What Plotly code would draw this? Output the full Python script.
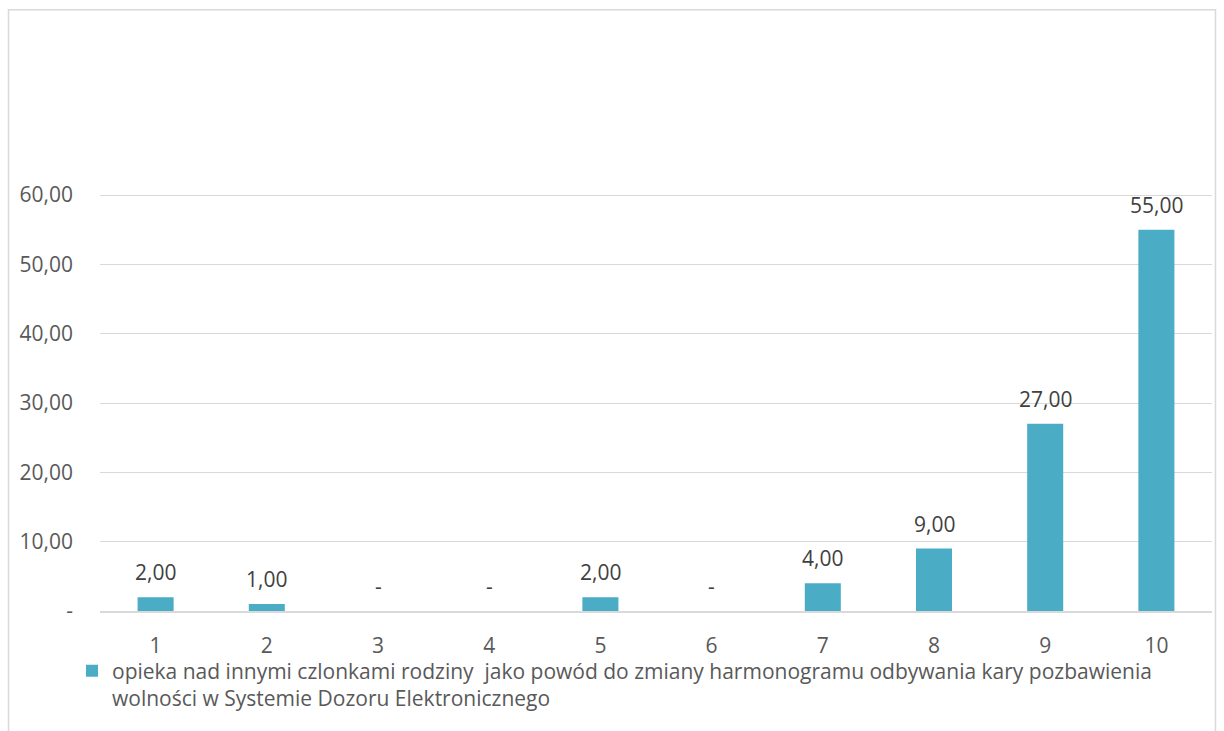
import plotly.graph_objects as go

categories = ["1", "2", "3", "4", "5", "6", "7", "8", "9", "10"]
values = [2, 1, 0, 0, 2, 0, 4, 9, 27, 55]
labels = ["2,00", "1,00", "-", "-", "2,00", "-", "4,00", "9,00", "27,00", "55,00"]
y_tickvals = [0, 10, 20, 30, 40, 50, 60]
y_ticktext = ["-", "10,00", "20,00", "30,00", "40,00", "50,00", "60,00"]
series_name = ("opieka nad innymi czlonkami rodziny  jako powód do zmiany harmonogramu "
               "odbywania kary pozbawienia<br>wolności w Systemie Dozoru Elektronicznego")

FONT = "Open Sans"
FS = 21
W, H = 1224, 731
L, R, T, B = 100, 12, 194, 117
pw, ph = W - L - R, H - T - B
Y_MAX = 60.15

fig = go.Figure()
fig.add_trace(go.Bar(
    x=categories, y=values, name=series_name,
    marker=dict(color="#4bacc6", line=dict(width=0)),
    showlegend=True,
))

for i, (v, t) in enumerate(zip(values, labels)):
    fig.add_annotation(x=i, y=v, text=t, showarrow=False, yanchor="bottom",
                       yshift=9, font=dict(family=FONT, size=FS, color="#404040"))

def px_x(p):
    return (p - L) / pw

def px_y(p):
    return (H - B - p) / ph

fig.add_shape(type="rect", xref="paper", yref="paper",
              x0=px_x(8.5), x1=px_x(1215.5), y0=px_y(745), y1=px_y(8.5),
              line=dict(color="#d9d9d9", width=1.5), fillcolor="rgba(0,0,0,0)", layer="below")

fig.update_layout(
    width=W, height=H,
    margin=dict(l=L, r=R, t=T, b=B, pad=0),
    paper_bgcolor="white", plot_bgcolor="white",
    bargap=0.676,
    font=dict(family=FONT, size=FS, color="#595959"),
    xaxis=dict(type="category", range=[-0.5, 9.5], showgrid=False, showline=True,
               linecolor="#d9d9d9", linewidth=1.5, ticks="",
               tickfont=dict(size=FS, color="#595959"), ticklabelstandoff=15),
    yaxis=dict(range=[0, Y_MAX], tickvals=y_tickvals, ticktext=y_ticktext,
               showgrid=True, gridcolor="#d9d9d9", gridwidth=1, zeroline=False,
               showline=False, ticks="", ticklabelstandoff=26,
               tickfont=dict(size=FS, color="#595959")),
    legend=dict(x=px_x(72), y=px_y(654), xanchor="left", yanchor="top",
                orientation="h", font=dict(size=FS, color="#595959"),
                bgcolor="rgba(0,0,0,0)", itemwidth=30, valign="top"),
)

fig.write_html("out.html", post_script="document.body.style.margin='0';",
               config={"displayModeBar": False})
